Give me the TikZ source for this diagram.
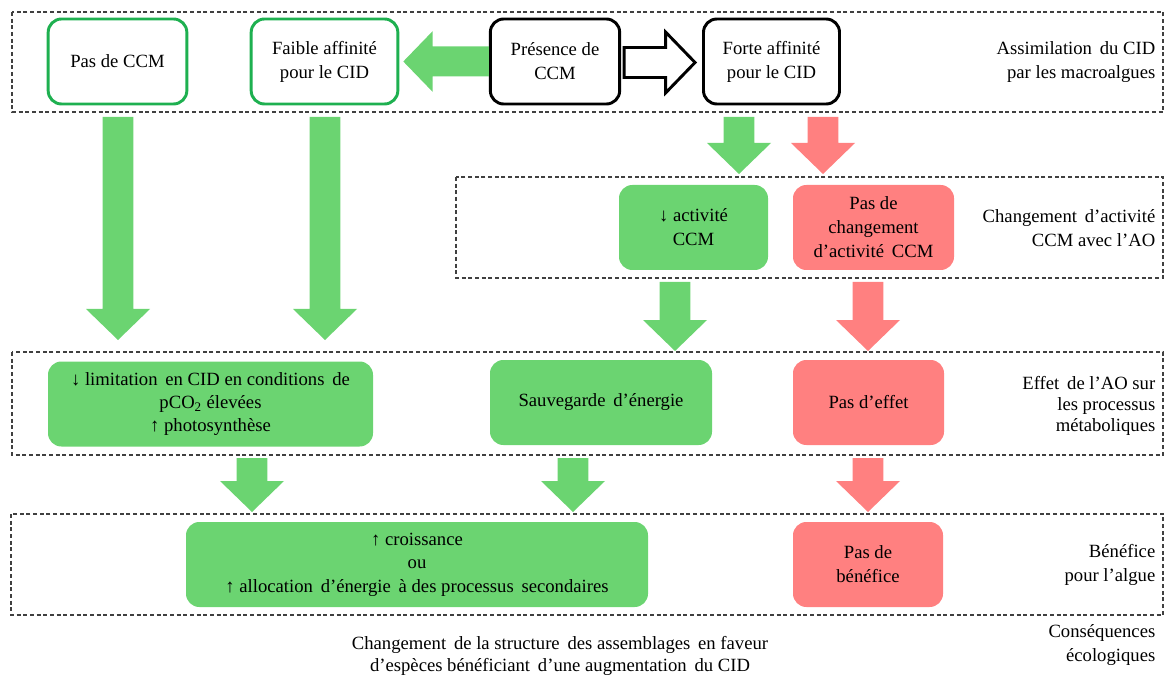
\documentclass[tikz,border=0pt]{standalone}
\usepackage{fontspec}
\setmainfont{Liberation Serif}
\usetikzlibrary{calc}
\definecolor{gfill}{RGB}{107,212,113}
\definecolor{rfill}{RGB}{255,128,128}
\definecolor{gborder}{RGB}{30,176,80}
\newcommand\vblk[3]{\path[#3] let \p1=(#1), \p2=(#2) in
  ({\x1-11.6pt},\y1) -- ({\x1+11.6pt},\y1) -- ({\x1+11.6pt},{\y2+23.25pt}) -- ({\x1+24pt},{\y2+23.25pt})
  -- (\x1,\y2) -- ({\x1-24pt},{\y2+23.25pt}) -- ({\x1-11.6pt},{\y2+23.25pt}) -- cycle;}
\newcommand\hblk[4]{\path[#3] let \p1=(#1), \p2=(#2) in
  (\x1,{\y1+11.25pt}) -- ({\x2-(#4)*22pt},{\y1+11.25pt}) -- ({\x2-(#4)*22pt},{\y1+22.75pt}) -- (\x2,\y1)
  -- ({\x2-(#4)*22pt},{\y1-22.75pt}) -- ({\x2-(#4)*22pt},{\y1-11.25pt}) -- (\x1,{\y1-11.25pt}) -- cycle;}
\tikzset{
  base/.style={rounded corners=10pt, align=center, inner sep=2pt, minimum height=63.75pt,
    font=\fontsize{14}{18}\selectfont},
  gline/.style={base, draw=gborder, line width=2.2pt, fill=white},
  kline/.style={base, draw=black, line width=2.2pt, fill=white},
  gbox/.style={base, fill=gfill},
  rbox/.style={base, fill=rfill},
  band/.style={draw=black!75, dash pattern=on 3pt off 2pt, line width=0.8pt},
  lab/.style={anchor=east, align=right, font=\fontsize{14}{18}\selectfont},
  txt/.style={align=center, font=\fontsize{14}{16.5}\selectfont},
  garrow/.style={fill=gfill},
  rarrow/.style={fill=rfill},
  warrow/.style={fill=white, draw=black, line width=2.2pt, line join=miter},
}
\begin{document}
\begin{tikzpicture}[x=0.75pt, y=-0.75pt]
\useasboundingbox (0,0) rectangle (1167,677);
% bands
\draw[band] (12,12) rectangle (1163,112);
\draw[band] (456,177) rectangle (1163,278);
\draw[band] (12,352) rectangle (1163,455);
\draw[band] (11,514) rectangle (1163,615);
% row 1
\node[gline, minimum width=104pt] (pas) at (117.5,61.5) {Pas de CCM};
\node[gline, minimum width=110pt] (faible) at (324.5,61.5) {Faible affinité\\pour le CID};
\node[kline, minimum width=97pt] (pres) at (555,61.5) {Présence de\\CCM};
\node[kline, minimum width=102pt] (forte) at (771.5,61.5) {Forte affinité\\pour le CID};
% horizontal arrows
\coordinate (hl) at ($(faible.east)+(4,1)$);
\hblk{pres.west}{hl}{garrow}{-1}
\coordinate (hs) at ($(pres.east)+(3,1)$);
\coordinate (ht) at ($(forte.west)+(-7,1)$);
\hblk{hs}{ht}{warrow}{1}
% row 2
\node[gbox, minimum width=111.75pt, minimum height=63.75pt] (act) at (693.5,227.5) {↓ activité\\CCM};
\node[rbox, minimum width=120.75pt, minimum height=63.75pt] (pasch) at (873.5,227.5) {Pas de\\changement\\d’activité\, CCM};
% row 3
\node[gbox, minimum width=243.75pt, font=\fontsize{14}{17.5}\selectfont] (lim) at (210.5,404) {↓ limitation\, en CID en conditions\, de\\pCO\textsubscript{2} élevées\\↑ photosynthèse};
\node[gbox, minimum width=166.5pt] (sauv) at (601,402.5) {Sauvegarde\, d’énergie};
\node[rbox, minimum width=113.25pt] (effet) at (868.5,402.5) {Pas d’effet};
% row 4
\node[gbox, minimum width=346.5pt, font=\fontsize{14}{17.5}\selectfont] (crois) at (417,564.5) {↑ croissance\\ou\\↑ allocation\, d’énergie\, à des processus\, secondaires};
\node[rbox, minimum width=112.5pt] (benef) at (868,564.5) {Pas de\\bénéfice};
% vertical arrows
\coordinate (a1s) at (118,117); \coordinate (a1e) at (118,340);
\coordinate (a2s) at (325,117); \coordinate (a2e) at (325,340);
\coordinate (a3s) at (739,117); \coordinate (a3e) at (739,174);
\coordinate (a4s) at (823,117); \coordinate (a4e) at (823,174);
\coordinate (a5s) at (675,282); \coordinate (a5e) at (675,351);
\coordinate (a6s) at (868,282); \coordinate (a6e) at (868,351);
\coordinate (a7s) at (252,458); \coordinate (a7e) at (252,512);
\coordinate (a8s) at (573,458); \coordinate (a8e) at (573,512);
\coordinate (a9s) at (868,458); \coordinate (a9e) at (868,512);
\vblk{a1s}{a1e}{garrow}
\vblk{a2s}{a2e}{garrow}
\vblk{a3s}{a3e}{garrow}
\vblk{a4s}{a4e}{rarrow}
\vblk{a5s}{a5e}{garrow}
\vblk{a6s}{a6e}{rarrow}
\vblk{a7s}{a7e}{garrow}
\vblk{a8s}{a8e}{garrow}
\vblk{a9s}{a9e}{rarrow}
% labels
\node[lab] (l1) at (1160,62) {Assimilation\, du CID\\par les macroalgues};
\node[lab] (l2) at (1160,228) {Changement\, d’activité\\CCM avec l’AO};
\node[lab, font=\fontsize{14}{16}\selectfont] (l3) at (1160,406) {Effet\, de l’AO sur\\les processus\\métaboliques};
\node[lab] (l4) at (1160,565) {Bénéfice\\pour l’algue};
\node[lab] (l5) at (1160,645) {Conséquences\\écologiques};
\node[txt] (cons) at (560,656) {Changement\, de la structure\, des assemblages\, en faveur\\d’espèces bénéficiant\, d’une augmentation\, du CID};
\end{tikzpicture}
\end{document}
